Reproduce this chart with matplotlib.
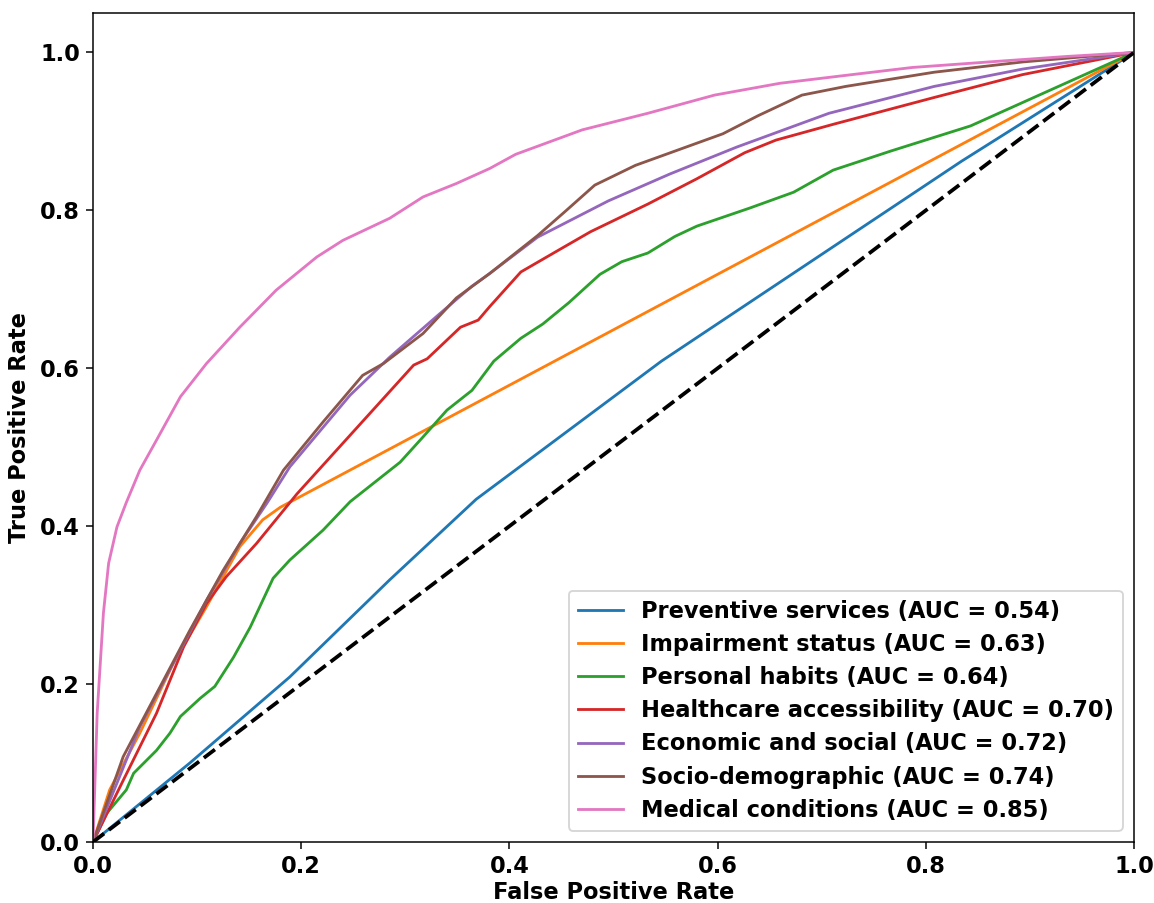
import numpy as np
import matplotlib.pyplot as plt

# ROC curves (FPR, TPR) per feature group
labels = ['Preventive services', 'Impairment status', 'Personal habits',
          'Healthcare accessibility', 'Economic and social',
          'Socio-demographic', 'Medical conditions']
aucs = [0.54, 0.63, 0.64, 0.70, 0.72, 0.74, 0.85]

prev_fpr = [0, 0.093, 0.189, 0.285, 0.368, 0.546, 0.834, 1]
prev_tpr = [0, 0.100, 0.209, 0.332, 0.434, 0.609, 0.862, 1]

imp_fpr = [0, 0.016, 0.045, 0.077, 0.109, 0.141, 0.163, 0.180, 1]
imp_tpr = [0, 0.066, 0.138, 0.226, 0.298, 0.374, 0.408, 0.424, 1]

hab_fpr = [0, 0.013, 0.032, 0.039, 0.061, 0.074, 0.084, 0.103, 0.117, 0.135,
           0.151, 0.173, 0.189, 0.221, 0.247, 0.295, 0.317, 0.340, 0.364,
           0.385, 0.411, 0.432, 0.457, 0.487, 0.508, 0.533, 0.559, 0.580,
           0.631, 0.673, 0.711, 0.766, 0.843, 1]
hab_tpr = [0, 0.036, 0.066, 0.087, 0.116, 0.138, 0.159, 0.182, 0.197, 0.234,
           0.272, 0.334, 0.357, 0.395, 0.431, 0.481, 0.513, 0.547, 0.572,
           0.609, 0.638, 0.656, 0.683, 0.719, 0.735, 0.746, 0.767, 0.780,
           0.803, 0.823, 0.851, 0.875, 0.907, 1]

hca_fpr = [0, 0.029, 0.061, 0.087, 0.109, 0.128, 0.157, 0.196, 0.308, 0.321,
           0.353, 0.370, 0.381, 0.411, 0.449, 0.478, 0.533, 0.580, 0.626,
           0.656, 0.711, 0.808, 0.893, 1]
hca_tpr = [0, 0.078, 0.163, 0.247, 0.302, 0.336, 0.378, 0.441, 0.604, 0.612,
           0.652, 0.661, 0.678, 0.722, 0.751, 0.773, 0.808, 0.840, 0.873,
           0.889, 0.909, 0.943, 0.972, 1]

eco_fpr = [0, 0.045, 0.077, 0.109, 0.141, 0.167, 0.189, 0.247, 0.285, 0.333,
           0.364, 0.381, 0.427, 0.495, 0.554, 0.618, 0.707, 0.808, 0.893, 1]
eco_tpr = [0, 0.146, 0.226, 0.306, 0.378, 0.429, 0.475, 0.566, 0.614, 0.669,
           0.704, 0.720, 0.766, 0.812, 0.846, 0.880, 0.923, 0.957, 0.979, 1]

soc_fpr = [0, 0.029, 0.061, 0.093, 0.125, 0.157, 0.183, 0.221, 0.259, 0.279,
           0.317, 0.349, 0.381, 0.427, 0.453, 0.482, 0.521, 0.563, 0.605,
           0.639, 0.681, 0.723, 0.808, 0.893, 1]
soc_tpr = [0, 0.108, 0.188, 0.268, 0.344, 0.412, 0.471, 0.532, 0.591, 0.606,
           0.644, 0.689, 0.720, 0.768, 0.798, 0.832, 0.857, 0.877, 0.897,
           0.920, 0.946, 0.957, 0.975, 0.988, 1]

med_fpr = [0, 0.004, 0.010, 0.015, 0.023, 0.032, 0.045, 0.061, 0.084, 0.109,
           0.141, 0.176, 0.215, 0.240, 0.285, 0.317, 0.349, 0.381, 0.406,
           0.470, 0.533, 0.597, 0.660, 0.723, 0.787, 0.871, 0.936, 1]
med_tpr = [0, 0.163, 0.290, 0.353, 0.399, 0.430, 0.471, 0.509, 0.564, 0.606,
           0.652, 0.699, 0.741, 0.762, 0.790, 0.817, 0.834, 0.853, 0.871,
           0.902, 0.923, 0.946, 0.961, 0.971, 0.981, 0.989, 0.995, 1]

curves = [(prev_fpr, prev_tpr), (imp_fpr, imp_tpr), (hab_fpr, hab_tpr),
          (hca_fpr, hca_tpr), (eco_fpr, eco_tpr), (soc_fpr, soc_tpr),
          (med_fpr, med_tpr)]

dpi = 135
fig = plt.figure(figsize=(1154 / dpi, 903 / dpi), dpi=dpi)
ax = fig.add_axes([0.0806, 0.0676, 0.9021, 0.918])

for (fpr, tpr), name, auc in zip(curves, labels, aucs):
    ax.plot(fpr, tpr, lw=1.5, label=f'{name} (AUC = {auc:.2f})')

ax.plot([0, 1], [0, 1], 'k--', lw=2)

ax.set_xlim(0, 1)
ax.set_ylim(0, 1.05)
ax.set_xticks(np.arange(0, 1.01, 0.2))
ax.set_yticks(np.arange(0, 1.01, 0.2))
ax.set_xlabel('False Positive Rate', fontsize=12, fontweight='bold', labelpad=1.5)
ax.set_ylabel('True Positive Rate', fontsize=12, fontweight='bold', labelpad=5)
ax.tick_params(labelsize=12)
for lbl in ax.get_xticklabels() + ax.get_yticklabels():
    lbl.set_fontweight('bold')

ax.legend(loc='lower right', prop={'size': 12, 'weight': 'bold'},
          labelspacing=0.45)

fig.savefig('out.png', dpi=dpi)
